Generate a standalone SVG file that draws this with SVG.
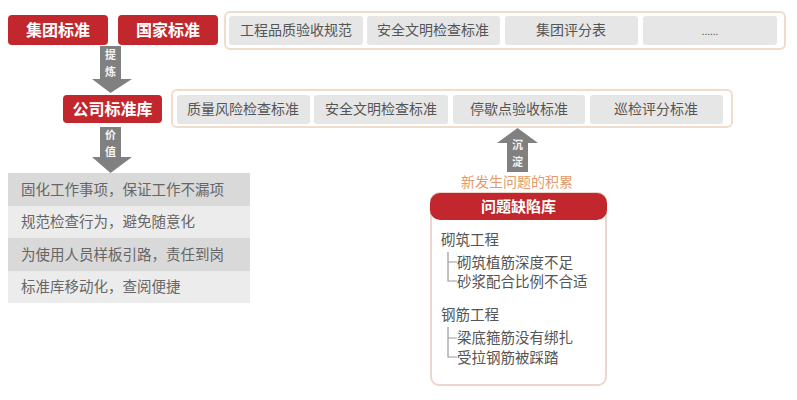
<svg xmlns="http://www.w3.org/2000/svg" width="797" height="400" viewBox="0 0 797 400">
<style>
text{font-family:"Noto Sans CJK SC","Noto Sans",sans-serif}
.red{fill:#c1272d}
.rt{fill:#fff;font-size:16px;font-weight:bold;text-anchor:middle}
.frame{fill:#fff;stroke:#f0dccb;stroke-width:2}
.gb{fill:#e6e6e6}
.gt{fill:#555;font-size:14px;text-anchor:middle}
.arr{fill:#808080}
.at{fill:#f4f4f4;font-size:11px;font-weight:bold;text-anchor:middle}
.lt{fill:#666;font-size:14.5px}
.pt{fill:#555;font-size:14.5px}
.tree{fill:none;stroke:#999;stroke-width:1.2}
</style>
<rect width="797" height="400" fill="#fff"/>
<g id="top-row">
<g id="jituan"><rect class="red" x="8" y="15" width="100" height="30" rx="4"/><text class="rt" x="58" y="36">集团标准</text></g>
<g id="guojia"><rect class="red" x="118" y="15" width="100" height="30" rx="4"/><text class="rt" x="168" y="36">国家标准</text></g>
<g id="top-frame"><rect class="frame" x="225" y="12" width="560" height="37" rx="5"/>
<rect class="gb" x="229" y="16" width="134" height="29" rx="3"/><text class="gt" x="296" y="35">工程品质验收规范</text>
<rect class="gb" x="367" y="16" width="133" height="29" rx="3"/><text class="gt" x="433" y="35">安全文明检查标准</text>
<rect class="gb" x="505" y="16" width="133" height="29" rx="3"/><text class="gt" x="571" y="35">集团评分表</text>
<rect class="gb" x="643" y="16" width="134" height="29" rx="3"/><text class="gt" x="710" y="35" style="font-size:10px">......</text>
</g>
</g>
<g id="company">
<g id="gongsi"><rect class="red" x="63" y="95" width="99" height="28" rx="4"/><text class="rt" x="112.5" y="115">公司标准库</text></g>
<g id="mid-frame"><rect class="frame" x="172" y="90" width="560" height="37" rx="5"/>
<rect class="gb" x="177" y="95" width="133" height="29" rx="3"/><text class="gt" x="243" y="114">质量风险检查标准</text>
<rect class="gb" x="314" y="95" width="134" height="29" rx="3"/><text class="gt" x="381" y="114">安全文明检查标准</text>
<rect class="gb" x="453" y="95" width="132" height="29" rx="3"/><text class="gt" x="519" y="114">停歇点验收标准</text>
<rect class="gb" x="590" y="95" width="133" height="29" rx="3"/><text class="gt" x="656" y="114">巡检评分标准</text>
</g>
</g>
<g id="connectors">
<g id="tilian"><path class="arr" d="M100,46 H121 V79 H132 L110.5,93 L92,79 H100 Z"/><text class="at" x="110.5" y="59">提</text><text class="at" x="110.5" y="76">炼</text></g>
<g id="jiazhi"><path class="arr" d="M100,127 H121 V157 H132 L110.5,173 L92,157 H100 Z"/><text class="at" x="110.5" y="139">价</text><text class="at" x="110.5" y="156">值</text></g>
<g id="chendian"><path class="arr" d="M507,172 H528 V143 H538 L517.5,128 L497,143 H507 Z"/><text class="at" x="517.5" y="149">沉</text><text class="at" x="517.5" y="166">淀</text></g>
</g>
<g id="value-list">
<rect x="8" y="173" width="242" height="33" fill="#d9d9d9"/><text class="lt" x="21" y="195">固化工作事项，保证工作不漏项</text>
<rect x="8" y="206" width="242" height="32" fill="#ececec"/><text class="lt" x="21" y="227">规范检查行为，避免随意化</text>
<rect x="8" y="238" width="242" height="33" fill="#d9d9d9"/><text class="lt" x="21" y="260">为使用人员样板引路，责任到岗</text>
<rect x="8" y="271" width="242" height="32" fill="#ececec"/><text class="lt" x="21" y="292">标准库移动化，查阅便捷</text>
</g>
<text x="517" y="187" style="fill:#e39a6a;font-size:14px;text-anchor:middle">新发生问题的积累</text>
<g id="problem-lib">
<rect x="431" y="193" width="175" height="192" rx="8" fill="#fff" stroke="#eed6cc" stroke-width="2"/>
<rect class="red" x="430" y="193" width="177" height="27" rx="10"/>
<text class="rt" x="518.5" y="212" style="font-size:15px">问题缺陷库</text>
<text class="pt" x="441" y="245">砌筑工程</text>
<path class="tree" d="M448,252 V281 H457 M448,262 H457"/>
<text class="pt" x="457" y="268">砌筑植筋深度不足</text>
<text class="pt" x="457" y="287">砂浆配合比例不合适</text>
<text class="pt" x="441" y="320">钢筋工程</text>
<path class="tree" d="M448,327 V357 H457 M448,338 H457"/>
<text class="pt" x="457" y="343">梁底箍筋没有绑扎</text>
<text class="pt" x="457" y="363">受拉钢筋被踩踏</text>
</g>
</svg>
